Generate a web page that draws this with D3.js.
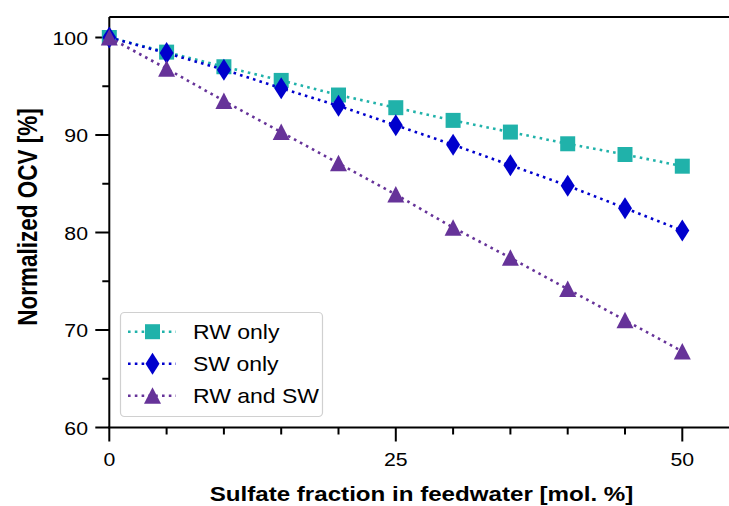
<!DOCTYPE html>
<html>
<head>
<meta charset="utf-8">
<script src="https://cdn.jsdelivr.net/npm/d3@7"></script>
<style>
  body { margin: 0; background: #fff; }
  text { font-family: Arial, "Liberation Sans", sans-serif; }
</style>
</head>
<body>
<div id="chart"></div>
<script>
const sulfate = [0, 5, 10, 15, 20, 25, 30, 35, 40, 45, 50];
const rwOnly = [100, 98.5, 97.0, 95.6, 94.1, 92.8, 91.5, 90.3, 89.1, 88.0, 86.8];
const swOnly = [100, 98.4, 96.7, 94.8, 93.0, 91.0, 89.0, 86.9, 84.8, 82.5, 80.2];
const rwAndSw = [100, 96.8, 93.5, 90.3, 87.1, 83.9, 80.5, 77.4, 74.2, 71.0, 67.8];
const seriesNames = ['RW only', 'SW only', 'RW and SW'];
const xTicks = [0, 25, 50];
const yTicks = [60, 70, 80, 90, 100];

const svg = d3.select('#chart').append('svg')
  .attr('width', 729)
  .attr('height', 506);

const x = d3.scaleLinear().domain([0, 50]).range([109.3, 682.3]);
const y = d3.scaleLinear().domain([60, 100]).range([427.5, 37.5]);
const yTop = 17;
const xRight = 729;
const sx = 1.15; // text in the picture is a bit wider than it is tall

const colors = ['#20b2aa', '#0000cd', '#663399'];
const allSeries = [rwOnly, swOnly, rwAndSw];

// marker shapes, centred at 0,0
function markerPath(kind) {
  if (kind === 0) return 'M-7.5,-7.5H7.5V7.5H-7.5Z';
  if (kind === 1) return 'M0,-11L7,0L0,11L-7,0Z';
  return 'M0,-8.5L8.5,8L-8.5,8Z';
}

function label(parent, px, py, str, size, anchor, bold) {
  return parent.append('text')
    .attr('transform', 'translate(' + px + ',' + py + ') scale(' + sx + ',1)')
    .attr('text-anchor', anchor)
    .attr('font-size', size)
    .attr('font-weight', bold ? 'bold' : 'normal')
    .text(str);
}

// spines
svg.append('line').attr('x1', 109.3).attr('x2', xRight).attr('y1', yTop).attr('y2', yTop)
  .attr('stroke', '#000').attr('stroke-width', 2);
svg.append('line').attr('x1', 109.3).attr('x2', 109.3).attr('y1', yTop).attr('y2', 427.5)
  .attr('stroke', '#000').attr('stroke-width', 2);
svg.append('line').attr('x1', 108.3).attr('x2', xRight).attr('y1', 427.5).attr('y2', 427.5)
  .attr('stroke', '#000').attr('stroke-width', 2);

// x ticks
const minorX = d3.range(5, 50, 5).filter(v => !xTicks.includes(v));
svg.selectAll('.xminor').data(minorX).enter().append('line')
  .attr('x1', d => x(d)).attr('x2', d => x(d))
  .attr('y1', 427.5).attr('y2', 434.5)
  .attr('stroke', '#000').attr('stroke-width', 2);
svg.selectAll('.xmajor').data(xTicks).enter().append('line')
  .attr('x1', d => x(d)).attr('x2', d => x(d))
  .attr('y1', 427.5).attr('y2', 441.5)
  .attr('stroke', '#000').attr('stroke-width', 2);
xTicks.forEach(d => label(svg, x(d), 466, d, 18.5, 'middle', false));

// y ticks
const minorY = [65, 75, 85, 95];
svg.selectAll('.yminor').data(minorY).enter().append('line')
  .attr('x1', 102.3).attr('x2', 109.3)
  .attr('y1', d => y(d)).attr('y2', d => y(d))
  .attr('stroke', '#000').attr('stroke-width', 2);
svg.selectAll('.ymajor').data(yTicks).enter().append('line')
  .attr('x1', 95.3).attr('x2', 109.3)
  .attr('y1', d => y(d)).attr('y2', d => y(d))
  .attr('stroke', '#000').attr('stroke-width', 2);
yTicks.forEach(d => label(svg, 88, y(d) + 7, d, 18.5, 'end', false));

// axis titles
label(svg, 421.5, 500.7, 'Sulfate fraction in feedwater [mol. %]', 21, 'middle', true);
svg.append('text')
  .attr('transform', 'translate(37,217) scale(1.25,1) rotate(-90)')
  .attr('text-anchor', 'middle')
  .attr('font-size', 22.5).attr('font-weight', 'bold')
  .text('Normalized OCV [%]');

// series
const line = d3.line().x(d => x(d[0])).y(d => y(d[1]));
allSeries.forEach((vals, i) => {
  const pts = sulfate.map((s, j) => [s, vals[j]]);
  const g = svg.append('g');
  g.append('path').attr('d', line(pts))
    .attr('fill', 'none').attr('stroke', colors[i])
    .attr('stroke-width', 2.6).attr('stroke-dasharray', '2.6,4.2');
  g.selectAll('path.m').data(pts).enter().append('path')
    .attr('class', 'm')
    .attr('d', markerPath(i))
    .attr('transform', d => 'translate(' + x(d[0]) + ',' + y(d[1]) + ')')
    .attr('fill', colors[i]);
});

// legend
const lg = svg.append('g');
lg.append('rect').attr('x', 120.5).attr('y', 312.5).attr('width', 202).attr('height', 104)
  .attr('rx', 4).attr('fill', '#fff').attr('fill-opacity', 0.8)
  .attr('stroke', '#d0d0d0').attr('stroke-width', 1.2);
seriesNames.forEach((name, i) => {
  const cy = 331.7 + i * 32;
  lg.append('line').attr('x1', 128).attr('x2', 176).attr('y1', cy).attr('y2', cy)
    .attr('stroke', colors[i]).attr('stroke-width', 2.6).attr('stroke-dasharray', '2.6,4.2');
  lg.append('path').attr('d', markerPath(i))
    .attr('transform', 'translate(152.5,' + cy + ')')
    .attr('fill', colors[i]);
  label(lg, 193, cy + 7, name, 20, 'start', false);
});
</script>
</body>
</html>
